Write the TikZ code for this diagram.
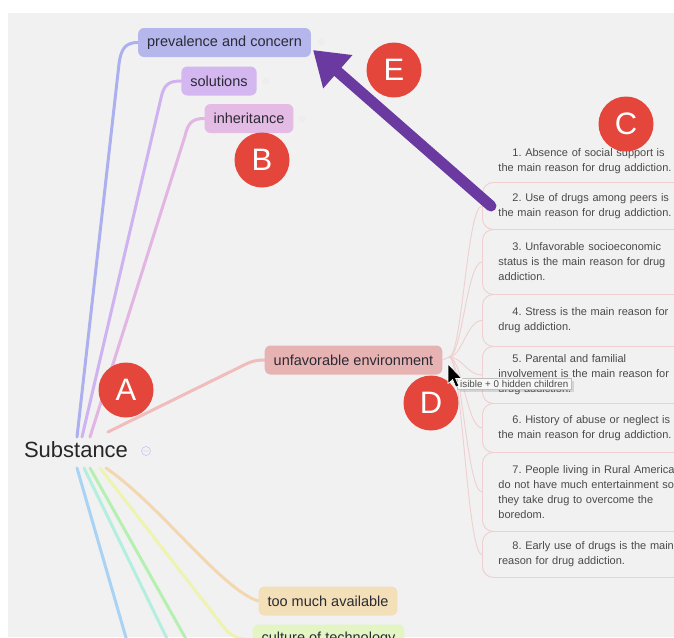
\documentclass[tikz,border=0pt]{standalone}
\usepackage{fontspec}
\setmainfont{Liberation Sans}
\usetikzlibrary{arrows.meta,shadows}
\definecolor{bg}{HTML}{F1F1F1}
\definecolor{txt}{HTML}{2B2B35}
\definecolor{itxt}{HTML}{4A4A4A}
\definecolor{badgered}{HTML}{E4463B}
\definecolor{purp}{HTML}{6B3AA0}
\definecolor{boxln}{HTML}{EFCFCF}
\definecolor{fprev}{HTML}{B4B6EC}
\definecolor{fsol}{HTML}{D4B6F0}
\definecolor{finh}{HTML}{E4BBE4}
\definecolor{fenv}{HTML}{E7B2B2}
\definecolor{ftoo}{HTML}{F3DFB8}
\definecolor{fcul}{HTML}{E3F5C3}
\definecolor{lprev}{HTML}{ADB0EE}
\definecolor{lsol}{HTML}{CFB2F0}
\definecolor{linh}{HTML}{E3B5E2}
\definecolor{lenv}{HTML}{F0BCBC}
\definecolor{lblue}{HTML}{A9D3F5}
\definecolor{lmint}{HTML}{B4EEDF}
\definecolor{lgreen}{HTML}{B6F0B0}
\definecolor{lyellow}{HTML}{EEF3B0}
\definecolor{lorange}{HTML}{F3D7B0}
\pgfdeclarelayer{bottom}
\pgfdeclarelayer{branches}
\pgfsetlayers{bottom,branches,main}
\frenchspacing
\begin{document}
\begin{tikzpicture}[x=1pt,y=-1pt,
  topic/.style={rounded corners=6pt, minimum height=29pt, inner xsep=9pt, inner ysep=0pt,
    font=\fontsize{14.5}{16}\selectfont, text=txt, anchor=center},
  badge/.style={circle, fill=badgered, text=white, minimum size=55pt, inner sep=0pt,
    font=\fontsize{31}{31}\selectfont},
  itembox/.style={draw=boxln, line width=0.9pt, rounded corners=11pt, anchor=north west,
    text width=190pt, align=left, inner xsep=16pt, inner ysep=0pt, minimum width=222pt,
    font=\fontsize{11}{15}\selectfont, text=itxt},
  branch/.style={line width=3pt, line cap=round},
  conn/.style={draw=boxln, line width=0.9pt},
  knob/.style={circle, fill=black!7, minimum size=7pt, inner sep=0pt},
]
\useasboundingbox (0,0) rectangle (674,637);
\clip (0,0) rectangle (674,637);
\begin{pgfonlayer}{bottom}
\fill[white] (0,0) rectangle (674,637);
\fill[bg] (8,13) rectangle (674,637);
\end{pgfonlayer}

% central topic
\node[font=\fontsize{22}{24}\selectfont, text=black!85] (sub) at (76,450) {Substance};
\node[circle, draw=lprev!70, line width=0.6pt, minimum size=9pt, inner sep=0pt, text=lprev!80,
  font=\fontsize{8}{8}\selectfont] (subk) at (146,451) {$-$};

% topics
\node[topic, fill=fprev] (prev) at (224.5,42.5) {prevalence and concern};
\node[topic, fill=fsol] (sol) at (219,81) {solutions};
\node[topic, fill=finh] (inh) at (249,118.5) {inheritance};
\node[topic, fill=fenv] (env) at (353.5,360) {unfavorable environment};
\node[topic, fill=ftoo] (too) at (328,601) {too much available};
\node[topic, fill=fcul] (cul) at (328.5,639) {culture of technology};
\node[knob] (kp) at (321,42) {};
\node[knob] (ks) at (266,81) {};
\node[knob] (ki) at (302,119) {};

% branch roots
\coordinate (rp) at (77,437);
\coordinate (rs) at (82,437);
\coordinate (ri) at (90,437);
\coordinate (ru) at (108,432);
\coordinate (rb) at (77,468);
\coordinate (rm) at (84,468);
\coordinate (rg) at (90,468);
\coordinate (ry) at (100,468);
\coordinate (ro) at (106,468);
\coordinate (eb) at (131,655);
\coordinate (em) at (175,655);
\coordinate (eg) at (195,655);

\begin{pgfonlayer}{branches}
\draw[branch, draw=lprev] (rp) -- (119,64) .. controls (121,48) and (126,42.5) .. (prev.west);
\draw[branch, draw=lsol] (rs) -- (161,98) .. controls (164,85) and (168,81) .. (sol.west);
\draw[branch, draw=linh] (ri) -- (185,136) .. controls (188,123) and (192,118.5) .. (inh.west);
\draw[branch, draw=lenv] (ru) -- (240,367) .. controls (250,362) and (254,360) .. (env.west);
\draw[branch, draw=lblue] (rb) -- (eb);
\draw[branch, draw=lmint] (rm) -- (em);
\draw[branch, draw=lgreen] (rg) -- (eg);
\draw[branch, draw=lyellow] (ry) -- (226,630) .. controls (234,638) and (240,639) .. (cul.west);
\draw[branch, draw=lorange] (ro) .. controls (160,505) and (222,590) .. (too.west);
\end{pgfonlayer}

% items
\node[itembox, draw=none, minimum height=42pt] (i1) at (482,140) {\hspace*{14pt}1. Absence of social support is\\the main reason for drug addiction.};
\node[itembox, minimum height=47pt] (i2) at (482,182) {\hspace*{14pt}2. Use of drugs among peers is\\the main reason for drug addiction.};
\node[itembox, minimum height=65pt] (i3) at (482,229) {\hspace*{14pt}3. Unfavorable socioeconomic\\status is the main reason for drug\\addiction.};
\node[itembox, minimum height=52pt] (i4) at (482,294) {\hspace*{14pt}4. Stress is the main reason for\\drug addiction.};
\node[itembox, minimum height=57pt] (i5) at (482,346) {\hspace*{14pt}5. Parental and familial\\involvement is the main reason for\\drug addiction.};
\node[itembox, minimum height=49pt] (i6) at (482,403) {\hspace*{14pt}6. History of abuse or neglect is\\the main reason for drug addiction.};
\node[itembox, minimum height=79pt] (i7) at (482,452) {\hspace*{14pt}7. People living in Rural America\\do not have much entertainment so\\they take drug to overcome the\\boredom.};
\node[itembox, minimum height=46pt] (i8) at (482,531) {\hspace*{14pt}8. Early use of drugs is the main\\reason for drug addiction.};
\coordinate (jn) at (449,357);
\draw[conn] (env.east) -- (jn);
\foreach \k in {2,...,8}{
  \draw[conn] (jn) .. controls (462,357) and (467,0|-i\k.west) .. (i\k.west);
}

% arrow E
\coordinate (as) at (491,206);
\coordinate (at) at (313,50);
\draw[purp, line width=11pt, line cap=round, -{Triangle[length=33pt,width=42pt]}] (as) -- (at);

% badges
\node[badge] (A) at (126,390) {A};
\node[badge] (B) at (262,160) {B};
\node[badge] (C) at (626,124) {C};
\node[badge] (D) at (431,403) {D};
\node[badge] (E) at (394,70) {E};

% tooltip and cursor
\node[draw=black!25, fill=white!97!black, drop shadow={opacity=0.25}, font=\fontsize{9.8}{10}\selectfont,
  text=black!70, inner xsep=3pt, inner ysep=2pt, anchor=west] (tip) at (457,384) {isible + 0 hidden children};
\draw[fill=black, draw=white, line width=0.6pt, shift={(448,364)}, scale=1.15]
  (0,0) -- (0,17) -- (4,13.5) -- (6.8,20) -- (9.4,19) -- (6.6,12.6) -- (12,12.6) -- cycle;
\end{tikzpicture}
\end{document}
